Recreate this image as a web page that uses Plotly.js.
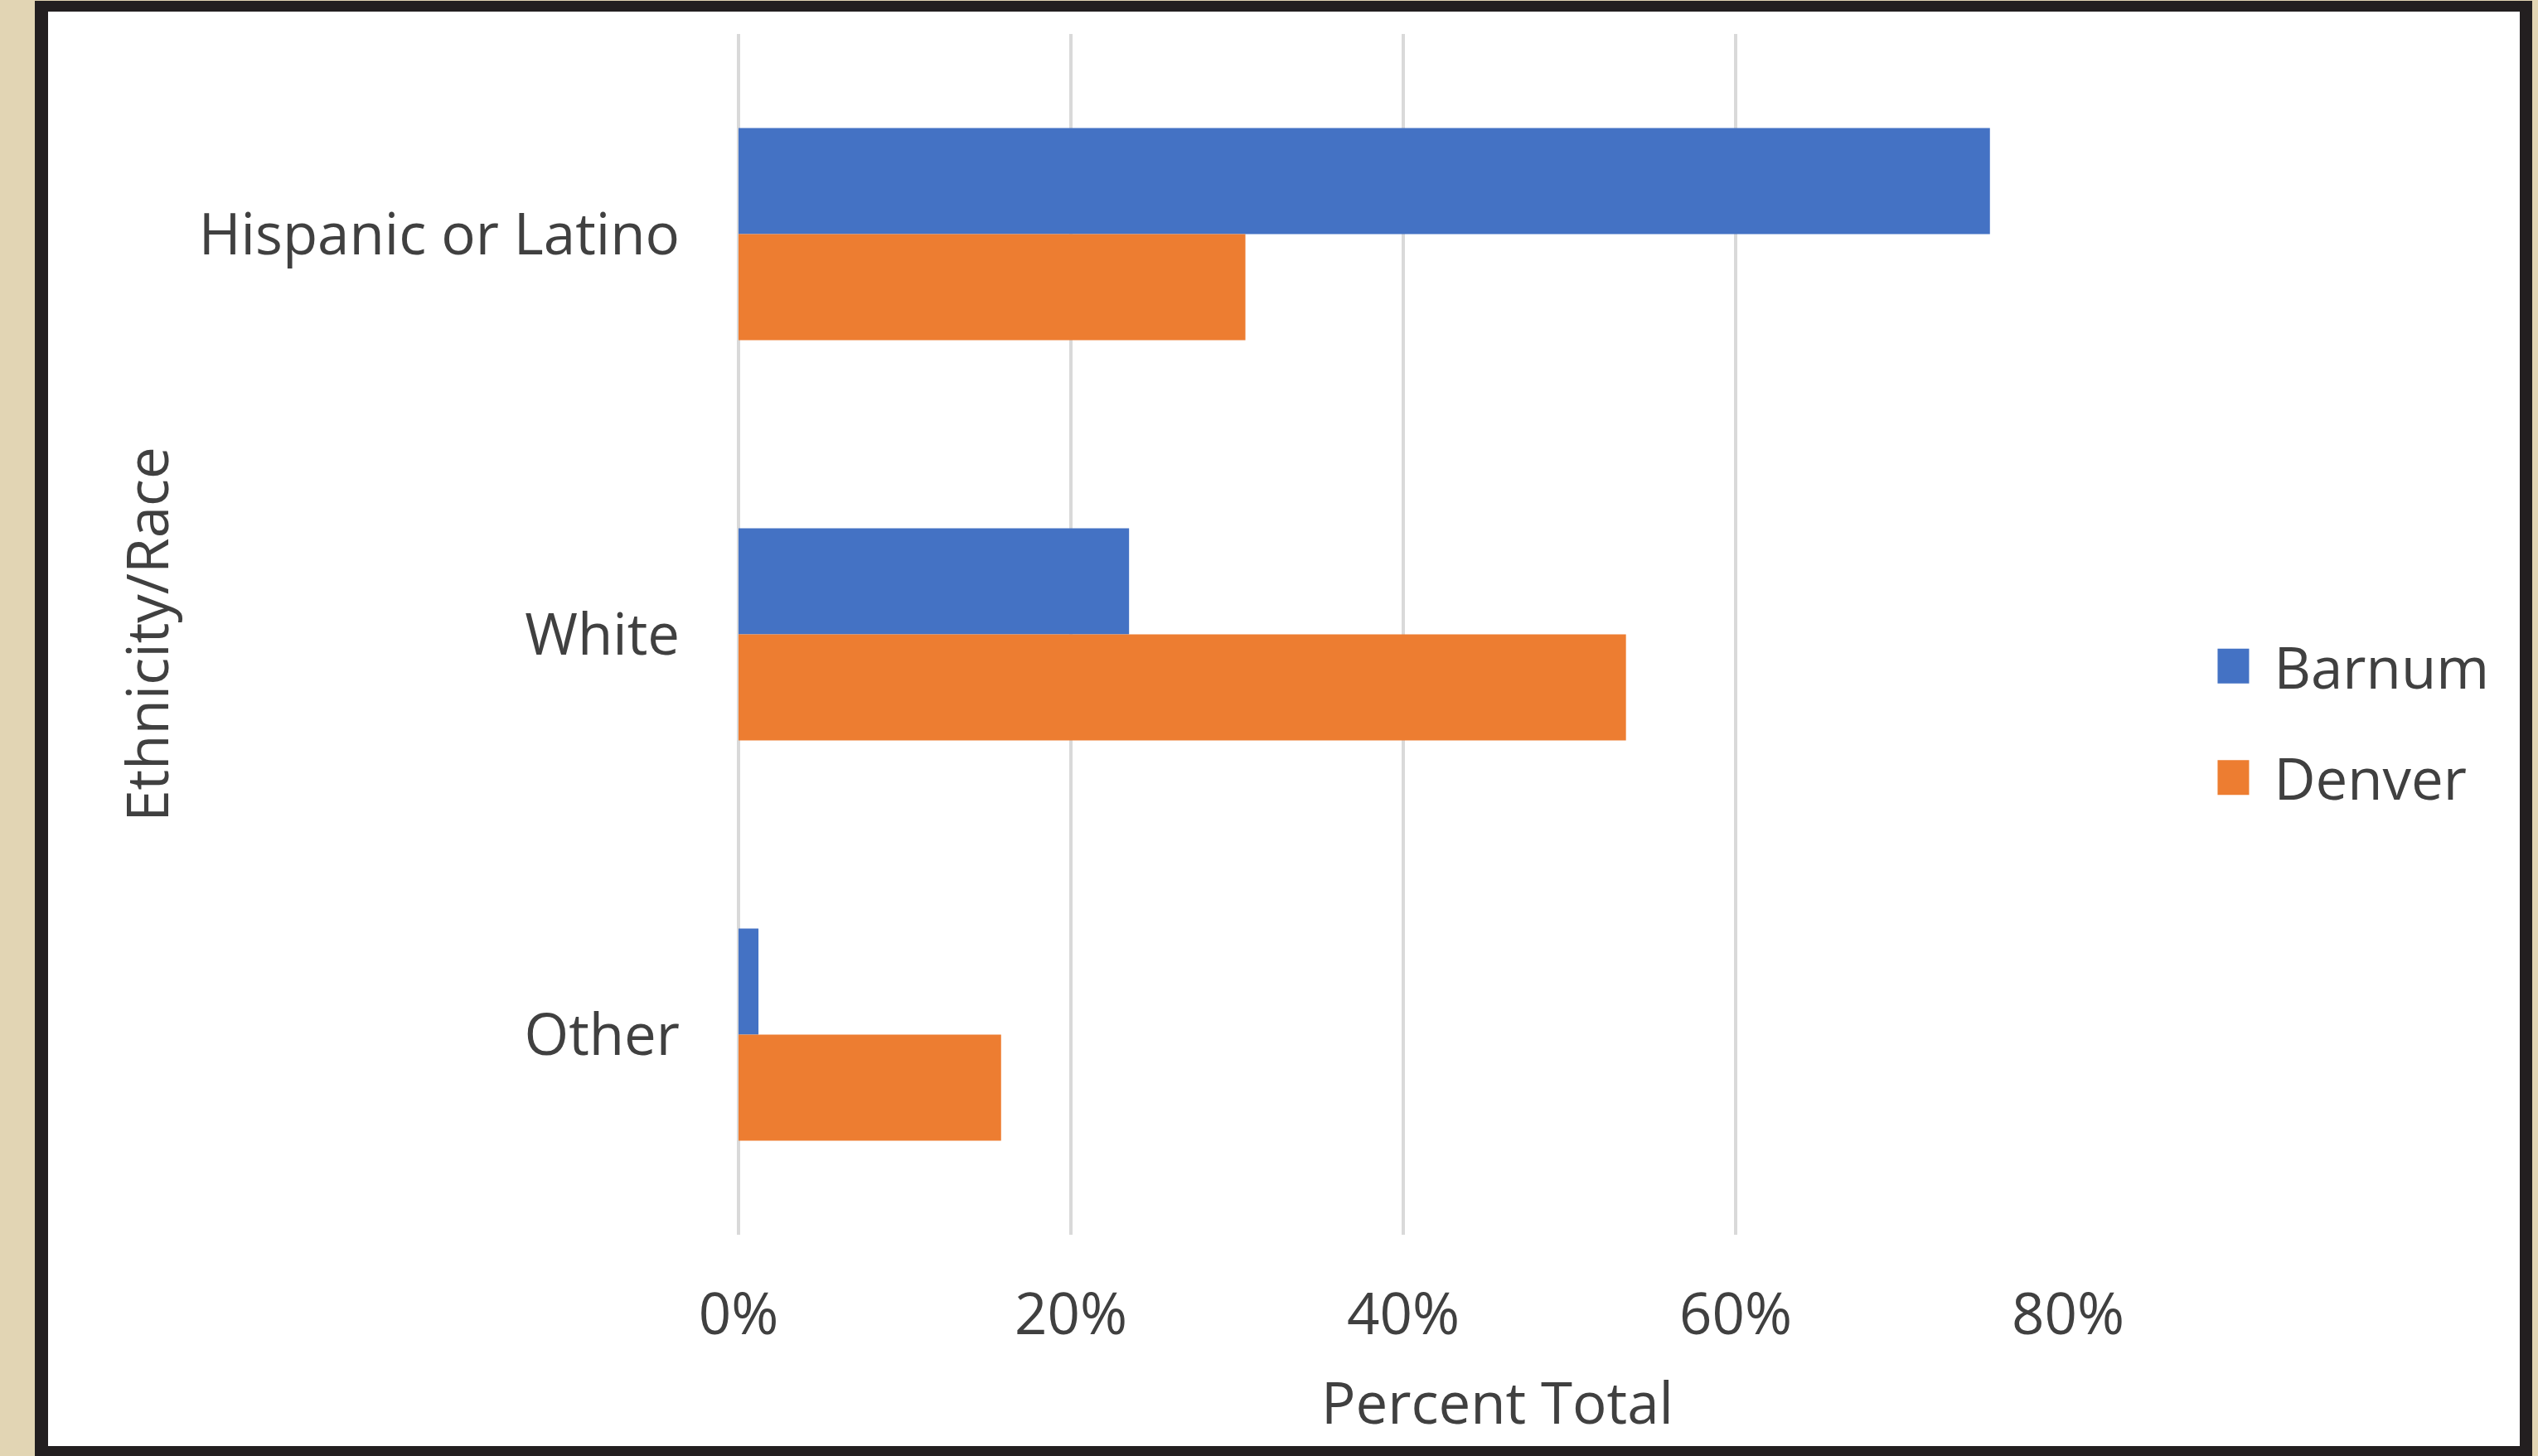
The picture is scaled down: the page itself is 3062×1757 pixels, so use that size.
<!DOCTYPE html>
<html>
<head>
<meta charset="utf-8">
<script src="https://cdn.plot.ly/plotly-3.0.1.min.js"></script>
<style>
  html, body { margin: 0; padding: 0; width: 3062px; height: 1757px; overflow: hidden; background: #E2D5B4; }
  #frame { position: absolute; left: 42px; top: 1px; width: 3013px; height: 1756px; background: #231F20; }
  #chart { position: absolute; left: 58px; top: 14px; width: 2982px; height: 1731px; background: #ffffff; }
</style>
</head>
<body>
<div id="frame"></div>
<div id="chart"></div>
<script>
// ---- data ----
const categories = ["Hispanic or Latino", "White", "Other"];
const barnumValues = [0.753, 0.235, 0.012];
const denverValues = [0.305, 0.534, 0.158];
const seriesNames = ["Barnum", "Denver"];
const xTickValues = [0, 0.2, 0.4, 0.6, 0.8];
const xTickLabels = ["0%", "20%", "40%", "60%", "80%"];
const xAxisTitle = "Percent Total";
const yAxisTitle = "Ethnicity/Race";

const FONT = "Open Sans, Segoe UI, DejaVu Sans, sans-serif";
const TXT = "#404040";
const FS = 69;

const traces = [
  { type: "bar", orientation: "h", name: seriesNames[0], y: categories, x: barnumValues,
    marker: { color: "#4472C4" }, legendgroup: "a", hoverinfo: "x+y+name" },
  { type: "bar", orientation: "h", name: seriesNames[1], y: categories, x: denverValues,
    marker: { color: "#ED7D31" }, legendgroup: "b", hoverinfo: "x+y+name" }
];

const layout = {
  width: 2982, height: 1731,
  margin: { l: 833, r: 545, t: 27, b: 255, pad: 0 },
  paper_bgcolor: "#ffffff", plot_bgcolor: "#ffffff",
  font: { family: FONT, size: FS, color: TXT },
  barmode: "group", bargap: 0.47, bargroupgap: 0,
  xaxis: {
    range: [0, 0.8], tickvals: xTickValues, ticktext: xTickLabels,
    showgrid: true, gridcolor: "#D9D9D9", gridwidth: 4,
    zeroline: true, zerolinecolor: "#D9D9D9", zerolinewidth: 4,
    showline: false, ticks: "", ticklabelstandoff: 50,
    tickfont: { family: FONT, size: FS, color: TXT }
  },
  yaxis: {
    type: "category", categoryorder: "array", categoryarray: categories,
    autorange: "reversed", showgrid: false, zeroline: false, showline: false,
    ticks: "", ticklabelstandoff: 70,
    tickfont: { family: FONT, size: FS, color: TXT },
    title: { text: yAxisTitle, font: { family: FONT, size: FS, color: TXT }, standoff: 13 }
  },
  annotations: [
    { text: xAxisTitle, xref: "paper", yref: "paper", x: 0.5705, y: -0.1387,
      xanchor: "center", yanchor: "middle", showarrow: false,
      font: { family: FONT, size: FS, color: TXT } }
  ],
  showlegend: true,
  legend: {
    x: 1.1125, y: 0.427, xanchor: "left", yanchor: "middle",
    traceorder: "grouped", tracegroupgap: 42, itemwidth: 58,
    font: { family: FONT, size: FS, color: TXT }, bgcolor: "rgba(0,0,0,0)"
  }
};

Plotly.newPlot("chart", traces, layout, { displayModeBar: false, staticPlot: true }).then(function (gd) {
  gd.querySelectorAll(".legend .legendpoints path").forEach(function (p) {
    p.removeAttribute("transform");
    p.setAttribute("d", "M38,21H-4V-21H38Z");
  });
});
</script>
</body>
</html>
